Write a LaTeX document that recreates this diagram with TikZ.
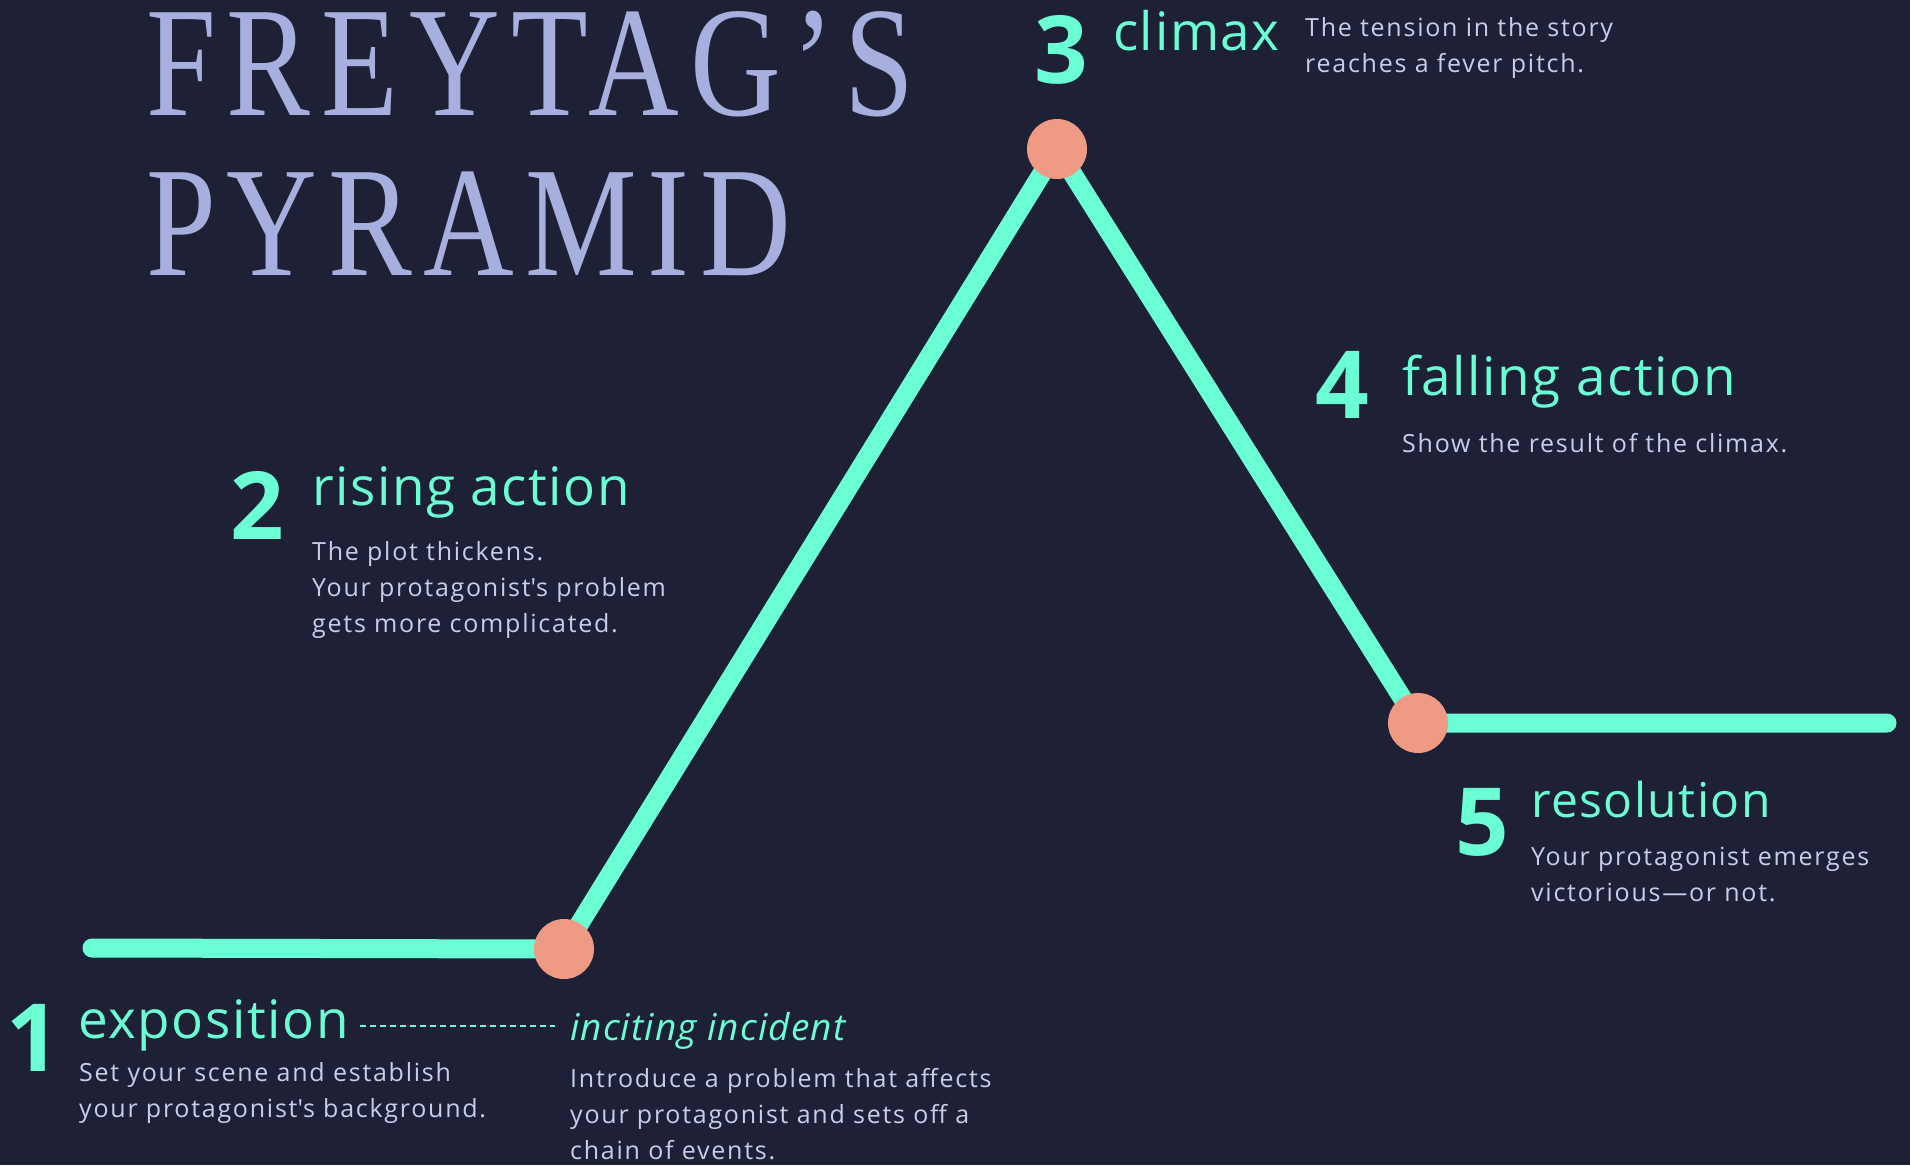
\documentclass[tikz,border=0pt]{standalone}
\usepackage{fontspec}
\setmainfont{Open Sans}
\newfontfamily\titlefont[FakeStretch=0.8,LetterSpace=7]{Liberation Serif}
\newfontfamily\headfont[LetterSpace=3]{Open Sans}
\newfontfamily\bodyfont[LetterSpace=7]{Open Sans}
\definecolor{bgnavy}{HTML}{1E2136}
\definecolor{plotgreen}{HTML}{6BFDD4}
\definecolor{turnsalmon}{HTML}{EF9A84}
\definecolor{titlelilac}{HTML}{A6AFDD}
\definecolor{bodylilac}{HTML}{C9CCEB}
\tikzset{plotline/.style={draw=plotgreen,line width=19pt,line cap=round,line join=round}}
\tikzset{turnpoint/.style={circle,fill=turnsalmon,minimum size=60pt,inner sep=0pt}}
\tikzset{titletext/.style={anchor=base west,inner sep=0pt,text=titlelilac,font=\titlefont\fontsize{157}{157}\selectfont}}
\tikzset{numtext/.style={anchor=base west,inner sep=0pt,text=plotgreen,font=\fontsize{94}{94}\selectfont\bfseries}}
\tikzset{headtext/.style={anchor=base west,inner sep=0pt,text=plotgreen,font=\headfont\fontsize{53}{60}\selectfont}}
\tikzset{bodytext/.style={anchor=base west,inner sep=0pt,align=left,text=bodylilac,font=\bodyfont\fontsize{25}{36}\selectfont}}
\tikzset{dashline/.style={draw=plotgreen,line width=1.5pt,dash pattern=on 6pt off 4pt}}

\begin{document}
\begin{tikzpicture}[x=1pt,y=-1pt]
                \fill[bgnavy] (0,0) rectangle (1910,1165);
                \useasboundingbox (0,0) rectangle (1910,1165);

                \node[titletext] (title1) at (146,115) {FREYTAG’S};
                \node[titletext] (title2) at (146,275) {PYRAMID};

                \coordinate (start) at (92,948);
                \coordinate (incite) at (564,949);
                \coordinate (peak) at (1057,149);
                \coordinate (settle) at (1418,723);
                \coordinate (finish) at (1887,723);
                \draw[plotline] (start) -- (incite) -- (peak) -- (settle) -- (finish);
                \node[turnpoint] (inciteDot) at (incite) {};
                \node[turnpoint] (peakDot) at (peak) {};
                \node[turnpoint] (settleDot) at (settle) {};

                \node[numtext] (num1) at (6,1071) {1};
                \node[headtext] (expo) at (78,1038) {exposition};
                \node[bodytext] (expoText) at (79,1117) {Set your scene and establish\\your protagonist\textquotesingle s background.};
                \node[headtext,font=\headfont\itshape\fontsize{37}{44}\selectfont] (inciting) at (570,1040) {inciting incident};
                \node[bodytext] (incitingText) at (570,1159) {Introduce a problem that affects\\your protagonist and sets off a\\chain of events.};
                \draw[dashline] ([xshift=11pt,yshift=12pt]expo.base east) -- ([xshift=-15pt,yshift=14pt]inciting.base west);

                \node[numtext] (num2) at (230,539) {2};
                \node[headtext] (rising) at (312,505) {rising action};
                \node[bodytext] (risingText) at (312,632) {The plot thickens.\\Your protagonist\textquotesingle s problem\\gets more complicated.};

                \node[numtext] (num3) at (1034,83) {3};
                \node[headtext] (climax) at (1113,50) {climax};
                \node[bodytext] (climaxText) at (1305,72) {The tension in the story\\reaches a fever pitch.};

                \node[numtext] (num4) at (1315,418) {4};
                \node[headtext] (falling) at (1402,395) {falling action};
                \node[bodytext] (fallingText) at (1402,452) {Show the result of the climax.};

                \node[numtext] (num5) at (1455,855) {5};
                \node[headtext,font=\headfont\fontsize{48}{60}\selectfont] (resolution) at (1531,817) {resolution};
                \node[bodytext] (resolutionText) at (1531,901) {Your protagonist emerges\\victorious—or not.};
\end{tikzpicture}
\end{document}
